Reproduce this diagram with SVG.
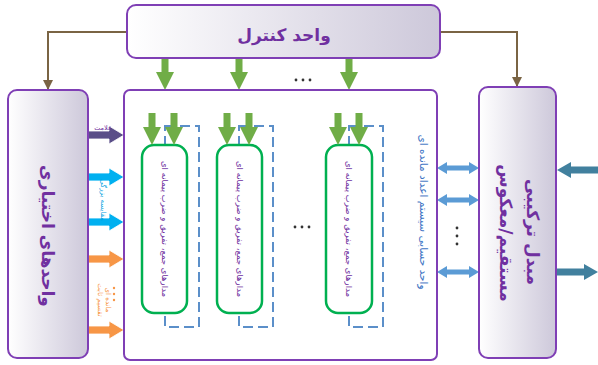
<svg xmlns="http://www.w3.org/2000/svg" width="598" height="365" viewBox="0 0 598 365">
<defs>
<linearGradient id="g" x1="0" y1="0" x2="1" y2="0">
<stop offset="0" stop-color="#ffffff"/>
<stop offset="1" stop-color="#cdc8da"/>
</linearGradient>
<path id="dn" d="M-3.5,0 H3.5 V14 H9 L0,32 L-9,14 H-3.5 Z"/>
<path id="rt" d="M0,-4 H21 V-9 L36,0 L21,9 V4 H0 Z" stroke="#ffffff" stroke-width="0.8"/>
<path id="dbl" d="M0,0 L10,-6 V-2.5 H32 V-6 L42,0 L32,6 V2.5 H10 V6 Z"/>
<marker id="br" viewBox="0 0 10 10" refX="9" refY="5" markerWidth="5" markerHeight="5" orient="auto">
<path d="M0,0 L10,5 L0,10 Z" fill="#7a6444"/>
</marker>
</defs>
<style>
.box{fill:url(#g);stroke:#7f3fb5;stroke-width:2}
.title{font-family:"DejaVu Sans",sans-serif;font-weight:bold;fill:#7030a0;text-anchor:middle}
.pe{fill:#ffffff;stroke:#00b050;stroke-width:2.5}
.dash{fill:none;stroke:#5b8fc9;stroke-width:2;stroke-dasharray:10 5}
.small{font-family:"DejaVu Sans",sans-serif;fill:#7030a0;text-anchor:middle;font-size:7.5px}
</style>

<g id="connectors">
<path d="M127,32 H48 V89" fill="none" stroke="#7a6444" stroke-width="2" marker-end="url(#br)"/>
<path d="M440,32 H517 V86" fill="none" stroke="#7a6444" stroke-width="2" marker-end="url(#br)"/>
<g fill="#70ad47">
<use href="#dn" x="165" y="58"/>
<use href="#dn" x="239" y="58"/>
<use href="#dn" x="349" y="58"/>
</g>
<g fill="#333">
<circle cx="296" cy="80" r="1.4"/><circle cx="303" cy="80" r="1.4"/><circle cx="310" cy="80" r="1.4"/>
</g>
<use href="#rt" x="88" y="135" fill="#5a4e88"/>
<use href="#rt" x="88" y="177" fill="#00b0f0"/>
<use href="#rt" x="88" y="222" fill="#00b0f0"/>
<use href="#rt" x="88" y="259" fill="#f79646"/>
<use href="#rt" x="88" y="330" fill="#f79646"/>
<g fill="#5b9bd5">
<use href="#dbl" x="437" y="168"/>
<use href="#dbl" x="437" y="200"/>
<use href="#dbl" x="437" y="272"/>
</g>
<g fill="#333">
<circle cx="457" cy="228" r="1.4"/><circle cx="457" cy="236" r="1.4"/><circle cx="457" cy="244" r="1.4"/>
</g>
<path d="M598,166.5 H571 V162 L557,170 L571,178 V173.5 H598 Z" fill="#41809e"/>
<path d="M557,268.5 H584 V264 L598,272 L584,280 V275.5 H557 Z" fill="#41809e"/>
</g>

<g id="control">
<rect class="box" x="127" y="5" width="313" height="53" rx="9"/>
<text class="title" x="284" y="41" font-size="17">واحد کنترل</text>
</g>

<g id="optional">
<rect class="box" x="8" y="90" width="80" height="268" rx="9"/>
<text class="title" font-size="17" transform="translate(48,236) rotate(90)" y="6">واحدهای اختیاری</text>
</g>

<g id="labels-left">
<text class="small" x="103" y="130" style="font-size:6.5px">علامت</text>
<text class="small" transform="translate(101,200) rotate(90)" style="fill:#00a0e0;font-size:7px">مقایسه بزرگی</text>
<text class="small" transform="translate(98,300) rotate(90)" style="fill:#f79646;font-size:7px">تقسیم ثابت</text>
<text class="small" transform="translate(106,300) rotate(90)" style="fill:#f79646;font-size:7px">مانده ای</text>
<g fill="#f79646">
<circle cx="114" cy="288" r="1.2"/><circle cx="114" cy="294" r="1.2"/><circle cx="114" cy="300" r="1.2"/>
</g>
</g>

<g id="rns">
<rect x="124" y="90" width="313" height="270" rx="6" fill="#ffffff" stroke="#7f3fb5" stroke-width="2"/>
<text transform="translate(420,212) rotate(90)" font-family="DejaVu Sans, sans-serif" font-size="10.5" fill="#3e74c4" text-anchor="middle">واحد حسابی سیستم اعداد مانده ای</text>
</g>

<g id="pe1">
<rect class="dash" x="165" y="126" width="34" height="201"/>
<rect class="pe" x="142" y="145" width="45" height="168" rx="12"/>
<text class="small" transform="translate(162,229) rotate(90)" style="font-size:8.5px">مدارهای جمع، تفریق و ضرب پیمانه ای</text>
<g fill="#70ad47"><use href="#dn" x="152" y="113"/><use href="#dn" x="174" y="113"/></g>
</g>
<g id="pe2">
<rect class="dash" x="239" y="126" width="34" height="201"/>
<rect class="pe" x="217" y="145" width="45" height="168" rx="12"/>
<text class="small" transform="translate(237,229) rotate(90)" style="font-size:8.5px">مدارهای جمع، تفریق و ضرب پیمانه ای</text>
<g fill="#70ad47"><use href="#dn" x="227" y="113"/><use href="#dn" x="249" y="113"/></g>
</g>
<g id="pe3">
<rect class="dash" x="349" y="126" width="34" height="201"/>
<rect class="pe" x="326" y="145" width="46" height="168" rx="12"/>
<text class="small" transform="translate(346,229) rotate(90)" style="font-size:8.5px">مدارهای جمع، تفریق و ضرب پیمانه ای</text>
<g fill="#70ad47"><use href="#dn" x="338" y="113"/><use href="#dn" x="359" y="113"/></g>
</g>
<g fill="#333">
<circle cx="295" cy="227" r="1.4"/><circle cx="302" cy="227" r="1.4"/><circle cx="309" cy="227" r="1.4"/>
</g>

<g id="converter">
<rect class="box" x="479" y="87" width="77" height="271" rx="9"/>
<text class="title" font-size="17" transform="translate(533,232) rotate(90)" y="6">مبدل ترکیبی</text>
<text class="title" font-size="17" transform="translate(506,233) rotate(90)" y="6">مستقیم/معکوس</text>
</g>
</svg>
